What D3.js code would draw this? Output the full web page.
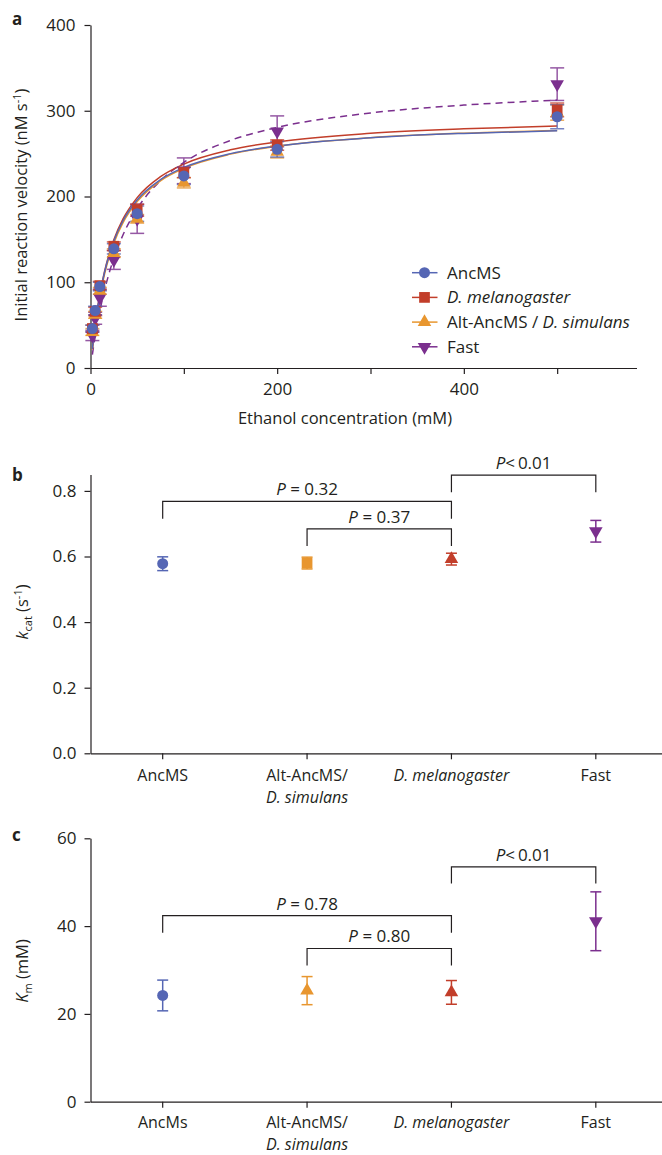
<!DOCTYPE html>
<html>
<head>
<meta charset="utf-8">
<script src="https://cdn.jsdelivr.net/npm/d3@7"></script>
<style>
  body { margin: 0; background: #fff; }
  svg text { font-family: "Open Sans", sans-serif; fill: #231f20; }
  .axis path, .axis line { stroke: #231f20; stroke-width: 1.2; }
  .axis text { font-size: 17px; font-family: "Open Sans", sans-serif; fill: #231f20; }
</style>
</head>
<body>
<svg id="fig" width="662" height="1155"></svg>
<script>
// ---- panel a : initial velocity vs ethanol ----
const concentrations = [2, 5, 10, 25, 50, 100, 200, 500];
const seriesNames = ["AncMS", "D. melanogaster", "Alt-AncMS / D. simulans", "Fast"];
const seriesColors = ["#5566b4", "#c23e2a", "#e8962f", "#7b2f8e"];

const ancVelocity = [46, 67, 95, 139, 180, 224, 255, 293];
const ancError = [4, 5, 5, 6, 9, 10, 9, 14];
const melVelocity = [46, 66, 96, 142, 184, 228, 260, 301];
const melError = [4, 5, 5, 5, 7, 6, 6, 8];
const altVelocity = [42, 62, 90, 134, 174, 216, 252, 298];
const altError = [4, 4, 4, 5, 5, 6, 7, 9];
const fastVelocity = [38, 58, 82, 126, 174, 230, 276, 331];
const fastError = [6, 7, 10, 11, 17, 15, 18, 19];

// fitted curves
const fitConcentrations = [2, 5, 7.5, 10, 15, 20, 25, 35, 50, 75, 100, 150, 200, 300, 400, 500];
const ancFit = [22.3, 50.0, 69.0, 85.3, 111.5, 131.8, 148.0, 172.0, 195.9, 219.7, 233.9, 250.0, 258.9, 268.5, 273.6, 276.7];
const melFit = [22.3, 50.2, 69.4, 85.8, 112.4, 133.0, 149.5, 174.1, 198.7, 223.1, 237.8, 254.4, 263.7, 273.7, 278.9, 282.2];
const altFit = [21.6, 48.5, 67.2, 83.1, 109.1, 129.3, 145.5, 169.8, 194.0, 218.3, 232.8, 249.4, 258.7, 268.6, 273.9, 277.1];
const fastFit = [15.7, 36.7, 52.3, 66.3, 90.5, 110.8, 128.0, 155.7, 185.7, 218.5, 239.7, 265.4, 280.5, 297.4, 306.6, 312.4];

// ---- panels b and c ----
const kcatCategories = ["AncMS", "Alt-AncMS/|D. simulans", "D. melanogaster", "Fast"];
const kmCategories = ["AncMs", "Alt-AncMS/|D. simulans", "D. melanogaster", "Fast"];
const variantColors = ["#5566b4", "#e8962f", "#c23e2a", "#7b2f8e"];
const kcatValues = [0.578, 0.580, 0.592, 0.677];
const kcatErrors = [0.021, 0.018, 0.018, 0.033];
const kmValues = [24.2, 25.3, 24.9, 41.1];
const kmErrors = [3.5, 3.2, 2.7, 6.7];
const kcatTicks = [0, 0.2, 0.4, 0.6, 0.8];
const kmTicks = [0, 20, 40, 60];

// brackets: [from, to, bar height, leg end, label]
const kcatBrackets = [[0, 2, 0.768, 0.715, "= 0.32"], [1, 2, 0.684, 0.632, "= 0.37"], [2, 3, 0.848, 0.796, "<\u20090.01"]];
const kmBrackets = [[0, 2, 42.4, 38.5, "= 0.78"], [1, 2, 34.9, 31.0, "= 0.80"], [2, 3, 53.5, 49.7, "<\u20090.01"]];

const italicWords = ["D. simulans", "D. melanogaster"];

const svg = d3.select("#fig");
svg.append("rect").attr("width", 662).attr("height", 1155).attr("fill", "#fff");

const sym = {
  circle: d3.symbol().type(d3.symbolCircle).size(95),
  square: d3.symbol().type(d3.symbolSquare).size(115),
  tri: d3.symbol().type(d3.symbolTriangle).size(80)
};

function marker(g, kind, x, y, color) {
  const p = g.append("path")
    .attr("d", kind === "down" ? sym.tri() : sym[kind]())
    .attr("fill", color);
  p.attr("transform", `translate(${x},${y})` + (kind === "down" ? " rotate(180)" : ""));
}

function errorBar(g, x, yTop, yBot, color, half, op) {
  const e = g.append("g").attr("stroke", color).attr("stroke-width", 1.5).attr("opacity", op);
  e.append("line").attr("x1", x).attr("x2", x).attr("y1", yTop).attr("y2", yBot);
  e.append("line").attr("x1", x - half).attr("x2", x + half).attr("y1", yTop).attr("y2", yTop);
  e.append("line").attr("x1", x - half).attr("x2", x + half).attr("y1", yBot).attr("y2", yBot);
}

function panelLetter(letter, x, y) {
  svg.append("text").attr("x", x).attr("y", y).attr("font-size", 17).attr("font-weight", "bold").text(letter);
}

// ================= panel a =================
const xA = d3.scaleLinear().domain([0, 585]).range([90.5, 636.5]);
const yA = d3.scaleLinear().domain([0, 400]).range([368, 25]);

svg.append("g").attr("class", "axis").attr("transform", "translate(0,368)")
  .call(d3.axisBottom(xA).tickValues([0, 100, 200, 300, 400, 500])
    .tickFormat(d => d % 200 === 0 ? d : "").tickSize(6).tickSizeOuter(0).tickPadding(9));
svg.append("g").attr("class", "axis").attr("transform", "translate(90.5,0)")
  .call(d3.axisLeft(yA).tickValues([0, 100, 200, 300, 400]).tickSize(6).tickSizeOuter(0).tickPadding(9));

panelLetter("a", 12, 25);

const yTitleA = svg.append("text").attr("transform", "translate(27,205) rotate(-90)")
  .attr("text-anchor", "middle").attr("font-size", 16.5);
yTitleA.append("tspan").text("Initial reaction velocity (nM s");
yTitleA.append("tspan").attr("dy", -6).attr("font-size", 11).text("-1");
yTitleA.append("tspan").attr("dy", 6).text(")");

svg.append("text").attr("x", 345).attr("y", 424).attr("text-anchor", "middle")
  .attr("font-size", 16.5).text("Ethanol concentration (mM)");

const series = [
  { name: seriesNames[0], vel: ancVelocity, err: ancError, fit: ancFit, color: seriesColors[0], kind: "circle" },
  { name: seriesNames[1], vel: melVelocity, err: melError, fit: melFit, color: seriesColors[1], kind: "square" },
  { name: seriesNames[2], vel: altVelocity, err: altError, fit: altFit, color: seriesColors[2], kind: "tri" },
  { name: seriesNames[3], vel: fastVelocity, err: fastError, fit: fastFit, color: seriesColors[3], kind: "down", dashed: true }
];
const drawOrder = [3, 2, 1, 0];

const line = d3.line().x(d => xA(d[0])).y(d => yA(d[1])).curve(d3.curveMonotoneX);
const plotA = svg.append("g");

drawOrder.forEach(i => {
  const s = series[i];
  plotA.append("path")
    .datum(fitConcentrations.map((c, j) => [c, s.fit[j]]))
    .attr("d", line).attr("fill", "none").attr("stroke", s.color)
    .attr("stroke-width", 1.5).attr("stroke-dasharray", s.dashed ? "7,5" : null);
});
drawOrder.forEach(i => {
  const s = series[i];
  concentrations.forEach((c, j) => {
    errorBar(plotA, xA(c), yA(s.vel[j] + s.err[j]), yA(s.vel[j] - s.err[j]), s.color, 7, 0.8);
  });
});
drawOrder.forEach(i => {
  const s = series[i];
  concentrations.forEach((c, j) => marker(plotA, s.kind, xA(c), yA(s.vel[j]), s.color));
});

// legend
const legend = svg.append("g").attr("transform", "translate(412,272.7)");
series.forEach((s, i) => {
  const row = legend.append("g").attr("transform", `translate(0,${i * 24.7})`);
  row.append("line").attr("x1", 0).attr("x2", 25.5).attr("stroke", s.color).attr("stroke-width", 1.5);
  marker(row, s.kind, 12.5, 0, s.color);
  const t = row.append("text").attr("x", 35).attr("y", 6).attr("font-size", 17);
  if (i === 1) t.append("tspan").attr("font-style", "italic").text(s.name);
  else if (i === 2) {
    t.append("tspan").text("Alt-AncMS / ");
    t.append("tspan").attr("font-style", "italic").text("D. simulans");
  } else t.text(s.name);
});

// ================= panels b and c =================
function dotPanel(cfg) {
  const x = d3.scaleBand().domain(cfg.categories).range([90.5, 668]);
  const y = d3.scaleLinear().domain(cfg.domain).range([cfg.bottom, cfg.top]);

  const xAxis = svg.append("g").attr("class", "axis").attr("transform", `translate(0,${cfg.bottom})`)
    .call(d3.axisBottom(x).tickSize(6).tickSizeOuter(0).tickFormat(""));
  xAxis.selectAll(".tick").each(function (d) {
    const lines = d.split("|");
    lines.forEach((ln, k) => {
      d3.select(this).append("text").attr("y", cfg.labelY + k * 22).attr("text-anchor", "middle")
        .attr("font-style", italicWords.includes(ln) ? "italic" : "normal")
        .style("font-size", "16px").text(ln);
    });
  });

  svg.append("g").attr("class", "axis").attr("transform", "translate(90.5,0)")
    .call(d3.axisLeft(y).tickValues(cfg.ticks).tickFormat(cfg.format)
      .tickSize(6).tickSizeOuter(0).tickPadding(8));

  const g = svg.append("g");
  cfg.categories.forEach((c, i) => {
    const cx = x(c) + x.bandwidth() / 2;
    errorBar(g, cx, y(cfg.values[i] + cfg.errors[i]), y(cfg.values[i] - cfg.errors[i]), variantColors[i], 5.5, 1);
    marker(g, cfg.kinds[i], cx, y(cfg.values[i]), variantColors[i]);
  });

  cfg.brackets.forEach(b => {
    const x1 = x(cfg.categories[b[0]]) + x.bandwidth() / 2;
    const x2 = x(cfg.categories[b[1]]) + x.bandwidth() / 2;
    g.append("path")
      .attr("d", `M${x1},${y(b[3])}V${y(b[2])}H${x2}V${y(b[3])}`)
      .attr("fill", "none").attr("stroke", "#231f20").attr("stroke-width", 1.2);
    const t = g.append("text").attr("x", (x1 + x2) / 2).attr("y", y(b[2]) - 6)
      .attr("text-anchor", "middle").attr("font-size", 17);
    t.append("tspan").attr("font-style", "italic").text("P");
    t.append("tspan").text(b[4].startsWith("=") ? " " + b[4] : b[4]);
  });
}

dotPanel({
  categories: kcatCategories, domain: [0, 0.85], bottom: 753.3, top: 474.5,
  ticks: kcatTicks, format: d3.format(".1f"), values: kcatValues, errors: kcatErrors,
  kinds: ["circle", "square", "tri", "down"], brackets: kcatBrackets, labelY: 28
});
panelLetter("b", 12, 481);
const yTitleB = svg.append("text").attr("transform", "translate(28,612) rotate(-90)")
  .attr("text-anchor", "middle").attr("font-size", 16.5);
yTitleB.append("tspan").attr("font-style", "italic").text("k");
yTitleB.append("tspan").attr("dy", 4).attr("font-size", 11).text("cat");
yTitleB.append("tspan").attr("dy", -4).text(" (s");
yTitleB.append("tspan").attr("dy", -6).attr("font-size", 11).text("-1");
yTitleB.append("tspan").attr("dy", 6).text(")");

dotPanel({
  categories: kmCategories, domain: [0, 60], bottom: 1101.7, top: 838.3,
  ticks: kmTicks, format: d3.format("d"), values: kmValues, errors: kmErrors,
  kinds: ["circle", "tri", "tri", "down"], brackets: kmBrackets, labelY: 26
});
panelLetter("c", 12, 841);
const yTitleC = svg.append("text").attr("transform", "translate(28,971) rotate(-90)")
  .attr("text-anchor", "middle").attr("font-size", 16.5);
yTitleC.append("tspan").attr("font-style", "italic").text("K");
yTitleC.append("tspan").attr("dy", 4).attr("font-size", 11).text("m");
yTitleC.append("tspan").attr("dy", -4).text(" (mM)");
</script>
</body>
</html>
